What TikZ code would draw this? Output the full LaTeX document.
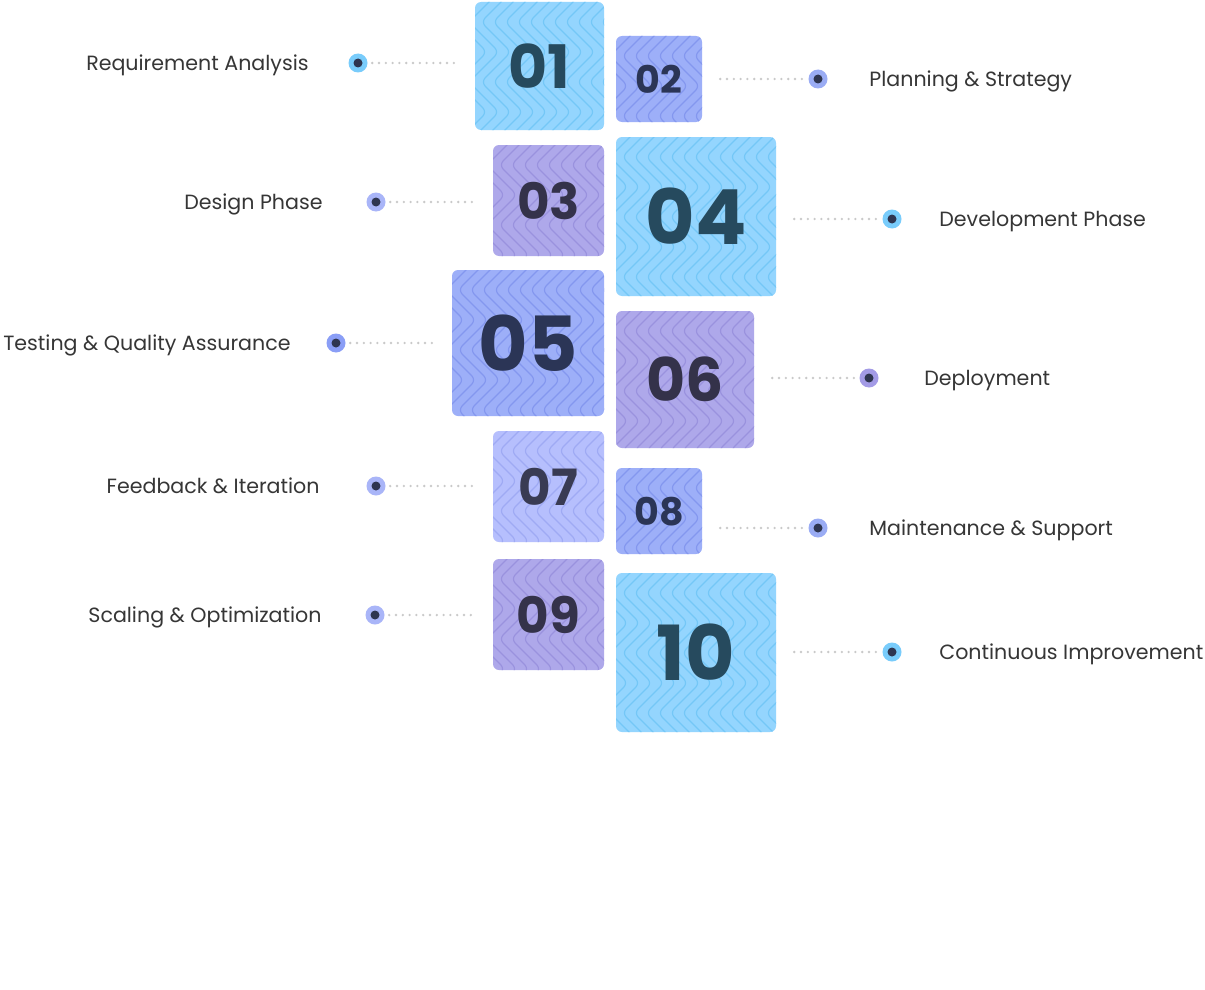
\documentclass[tikz,border=0pt]{standalone}
\usepackage{fontspec}
\setmainfont{Poppins}
\usepackage{tikz}
\usetikzlibrary{positioning,calc}
\definecolor{skyfill}{HTML}{94D5FE}
\definecolor{skyline}{HTML}{74C7F7}
\definecolor{skytext}{HTML}{264A5E}
\definecolor{perifill}{HTML}{9DAFF8}
\definecolor{periline}{HTML}{8497EF}
\definecolor{peritext}{HTML}{2B3556}
\definecolor{lavfill}{HTML}{AEA8EA}
\definecolor{lavline}{HTML}{9A92DE}
\definecolor{lavtext}{HTML}{34324A}
\definecolor{lightfill}{HTML}{B6BFFD}
\definecolor{lightline}{HTML}{9FAAF4}
\definecolor{lighttext}{HTML}{393B53}
\definecolor{ringsky}{HTML}{79CCFB}
\definecolor{ringperi}{HTML}{9AACF4}
\definecolor{ringdeep}{HTML}{8A9EF6}
\definecolor{ringlight}{HTML}{A9B5F8}
\definecolor{ringlav}{HTML}{A39BE6}
\definecolor{dotcore}{HTML}{2E3550}
\definecolor{labgray}{HTML}{363636}
\definecolor{dotgray}{HTML}{C9C9C9}
\newcommand\numb[1]{\bfseries\fontsize{#1}{#1}\selectfont}

\begin{document}
\begin{tikzpicture}[x=1pt, y=-1pt, node distance=40pt, every node/.style={inner sep=0pt},
  zig/.style={path picture={\foreach \k in {0,...,17} \draw[#1, line width=1.2pt] ([shift={({\k*12pt},10pt)}]path picture bounding box.north west) \foreach \j in {1,...,3} {-- ++(-30pt,-30pt) -- ++(30pt,-30pt)};}},
  box/.style={rounded corners=6pt, text depth=0pt},
  sky/.style={box, fill=skyfill, zig=skyline, text=skytext},
  peri/.style={box, fill=perifill, zig=periline, text=peritext},
  lav/.style={box, fill=lavfill, zig=lavline, text=lavtext},
  pale/.style={box, fill=lightfill, zig=lightline, text=lighttext},
  dot/.style={circle, minimum size=19pt, fill=#1, path picture={\fill[dotcore] (path picture bounding box.center) circle (4.5pt);}},
  lab/.style={font=\fontsize{20.6}{24}\selectfont, text=labgray, text height=15pt, text depth=0pt},
  dotline/.style={line width=2.6pt, dotgray, line cap=round, dash pattern=on 0pt off 6.8pt}]
\path[fill=white, use as bounding box] (0,0) rectangle (1205,990);
% boxes
\node[sky, minimum width=129pt, minimum height=128pt, font=\numb{60}] (b01) at (539.5,66) {01};
\node[peri, minimum size=86pt, font=\numb{38}] (b02) at (659,79) {02};
\node[lav, minimum size=111pt, font=\numb{50}] (b03) at (548.5,200.5) {03};
\node[sky, minimum width=160pt, minimum height=159pt, font=\numb{76}] (b04) at (696,216.5) {04};
\node[peri, minimum width=152pt, minimum height=146pt, font=\numb{76}] (b05) at (528,343) {05};
\node[lav, minimum width=138pt, minimum height=137pt, font=\numb{60}] (b06) at (685,379.5) {06};
\node[pale, minimum size=111pt, font=\numb{50}] (b07) at (548.5,486.5) {07};
\node[peri, minimum size=86pt, font=\numb{38}] (b08) at (659,511) {08};
\node[lav, minimum size=111pt, font=\numb{50}] (b09) at (548.5,614.5) {09};
\node[sky, minimum width=160pt, minimum height=159pt, font=\numb{76}] (b10) at (696,652.5) {10};
% dots
\node[dot=ringsky] (d01) at (358,63) {};
\node[dot=ringperi] (d02) at (818,79) {};
\node[dot=ringlight] (d03) at (376,202) {};
\node[dot=ringsky] (d04) at (892,219) {};
\node[dot=ringdeep] (d05) at (336,343) {};
\node[dot=ringlav] (d06) at (869,378) {};
\node[dot=ringlight] (d07) at (376,486) {};
\node[dot=ringperi] (d08) at (818,528) {};
\node[dot=ringlight] (d09) at (375,615) {};
\node[dot=ringsky] (d10) at (892,652) {};
% labels
\node[lab, left=39.5pt of d01] (l01) {Requirement Analysis};
\node[lab, right=41.5pt of d02] (l02) {Planning \& Strategy};
\node[lab, left=43.5pt of d03] (l03) {Design Phase};
\node[lab, right=37.5pt of d04] (l04) {Development Phase};
\node[lab, left=35.5pt of d05] (l05) {Testing \& Quality Assurance};
\node[lab, right=45.5pt of d06] (l06) {Deployment};
\node[lab, left=46.5pt of d07] (l07) {Feedback \& Iteration};
\node[lab, right=41.5pt of d08] (l08) {Maintenance \& Support};
\node[lab, left=43.5pt of d09] (l09) {Scaling \& Optimization};
\node[lab, right=37.5pt of d10] (l10) {Continuous Improvement};
% connectors
\foreach \i in {01,03,05,07,09}
  \draw[dotline, shorten <=4.5pt, shorten >=19pt] (d\i) -- (d\i -| b\i.west);
\foreach \i in {02,04,06,08,10}
  \draw[dotline, shorten <=18pt, shorten >=3.5pt] (d\i -| b\i.east) -- (d\i);
\end{tikzpicture}
\end{document}
